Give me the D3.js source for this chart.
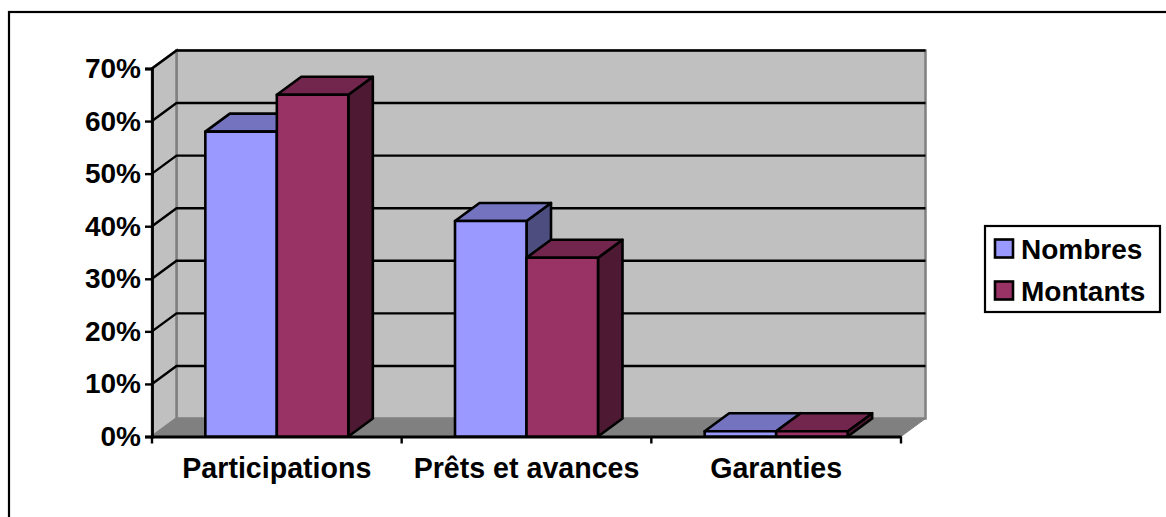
<!DOCTYPE html>
<html>
<head>
<meta charset="utf-8">
<script src="https://cdn.jsdelivr.net/npm/d3@7"></script>
<style>
  html, body { margin: 0; padding: 0; background: #fff; }
  svg { display: block; }
  text { font-family: "Liberation Sans", Arial, sans-serif; font-weight: bold; fill: #000; }
</style>
</head>
<body>
<div id="chart"></div>
<script>
// Share of operations by instrument
const categories = ["Participations", "Prêts et avances", "Garanties"];
const seriesNames = ["Nombres", "Montants"];
const nombres = [0.58, 0.41, 0.01];
const montants = [0.65, 0.34, 0.01];
const yTicks = [0, 0.1, 0.2, 0.3, 0.4, 0.5, 0.6, 0.7];

const frontColors = ["#9999ff", "#993366"];
const topColors = ["#7373bf", "#73264d"];
const sideColors = ["#4d4d80", "#4d1933"];

const width = 1166, height = 517;
const depthX = 24.5, depthY = -18;

const svg = d3.select("#chart").append("svg")
  .attr("width", width).attr("height", height);

const x = d3.scaleBand().domain(categories).range([152, 901]).paddingInner(0).paddingOuter(0);
const y = d3.scaleLinear().domain([0, 0.7]).range([436.5, 68.5]);
const inner = d3.scaleBand().domain(seriesNames)
  .range([0, x.bandwidth()]).paddingInner(0).paddingOuter(0.746);

// Chart frame
svg.append("rect").attr("x", 9).attr("y", 12)
  .attr("width", 1166).attr("height", 520)
  .attr("fill", "#fff").attr("stroke", "#000").attr("stroke-width", 2.2);

const path = pts => "M" + pts.map(p => p.join(",")).join("L") + "Z";
const [x0, x1] = x.range();
const [y0, y1] = y.range();

// Back wall, side wall and floor
const walls = svg.append("g");
walls.append("path").attr("fill", "#c0c0c0").attr("stroke", "#808080").attr("stroke-width", 2.5)
  .attr("d", path([[x0 + depthX, y1 + depthY], [x1 + depthX, y1 + depthY], [x1 + depthX, y0 + depthY], [x0 + depthX, y0 + depthY]]));
walls.append("path").attr("fill", "#c0c0c0").attr("stroke", "#808080").attr("stroke-width", 2.5)
  .attr("d", path([[x0, y0], [x0 + depthX, y0 + depthY], [x0 + depthX, y1 + depthY], [x0, y1]]));
walls.append("path").attr("fill", "#808080").attr("stroke", "#808080").attr("stroke-width", 1)
  .attr("d", path([[x0, y0], [x0 + depthX, y0 + depthY], [x1 + depthX, y0 + depthY], [x1, y0]]));

// Gridlines run up the side wall and across the back wall
const grid = svg.append("g").attr("fill", "none").attr("stroke", "#000").attr("stroke-width", 2.4);
grid.selectAll("path").data(yTicks.filter(t => t > 0)).join("path")
  .attr("d", t => `M${x0},${y(t)}L${x0 + depthX},${y(t) + depthY}L${x1 + depthX},${y(t) + depthY}`);

// Axes
const yAxis = d3.axisLeft(y).tickValues(yTicks).tickFormat(d3.format(".0%")).tickSize(7).tickPadding(4);
const xAxis = d3.axisBottom(x).tickSize(0).tickPadding(21);
const gy = svg.append("g").attr("transform", `translate(${x0},0)`).call(yAxis);
const gx = svg.append("g").attr("transform", `translate(0,${y0})`).call(xAxis);
gy.attr("font-family", null);
gx.attr("font-family", null);
gy.selectAll("text").attr("font-size", 28);
gx.selectAll("text").attr("font-size", 28.6);
svg.selectAll(".domain").attr("stroke", "#000").attr("stroke-width", 2.8);
svg.selectAll(".tick line").attr("stroke", "#000").attr("stroke-width", 2.4);
svg.append("g").selectAll("line").data(d3.range(categories.length + 1)).join("line")
  .attr("x1", i => x0 + i * x.step()).attr("x2", i => x0 + i * x.step())
  .attr("y1", y0).attr("y2", y0 + 7).attr("stroke", "#000").attr("stroke-width", 2.4);

// Extruded bars
const bars = svg.append("g").attr("stroke", "#000").attr("stroke-width", 2.6).attr("stroke-linejoin", "round");
categories.forEach((cat, c) => {
  [nombres, montants].forEach((values, s) => {
    const left = x(cat) + inner(seriesNames[s]);
    const right = left + inner.bandwidth();
    const top = y(values[c]);
    const g = bars.append("g");
    g.append("path").attr("fill", sideColors[s])
      .attr("d", path([[right, top], [right + depthX, top + depthY], [right + depthX, y0 + depthY], [right, y0]]));
    g.append("path").attr("fill", topColors[s])
      .attr("d", path([[left, top], [left + depthX, top + depthY], [right + depthX, top + depthY], [right, top]]));
    g.append("rect").attr("fill", frontColors[s])
      .attr("x", left).attr("y", top).attr("width", right - left).attr("height", y0 - top);
  });
});

// Legend
const legend = svg.append("g");
legend.append("rect").attr("x", 985).attr("y", 226).attr("width", 175).attr("height", 86)
  .attr("fill", "#fff").attr("stroke", "#000").attr("stroke-width", 2.2);
const rows = legend.selectAll("g").data(seriesNames).join("g")
  .attr("transform", (d, i) => `translate(0,${i * 42})`);
rows.append("rect").attr("x", 995).attr("y", 239.5).attr("width", 18).attr("height", 18)
  .attr("fill", (d, i) => frontColors[i]).attr("stroke", "#000").attr("stroke-width", 2.6);
rows.append("text").attr("x", 1021).attr("y", 258.5).attr("font-size", 28).text(d => d);
</script>
</body>
</html>
